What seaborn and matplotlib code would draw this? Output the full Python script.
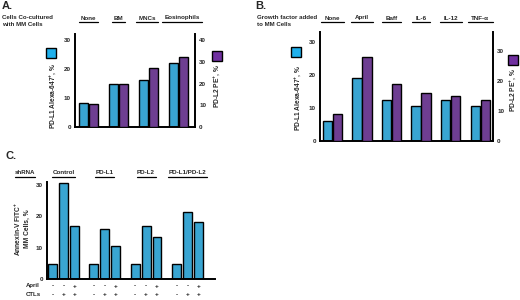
import numpy as np
import pandas as pd
import seaborn as sns
import matplotlib
matplotlib.use("Agg")
import matplotlib.pyplot as plt
from matplotlib import transforms
from matplotlib.patches import Rectangle
from matplotlib.lines import Line2D

# ---------------- data ----------------
A_groups = ["None", "BM", "MNCs", "Eosinophils"]
A_pdl1 = [8.4, 14.8, 16.2, 22.0]
A_pdl2 = [10.7, 19.9, 27.3, 32.3]

B_groups = ["None", "April", "Baff", "IL-6", "IL-12", "TNF-α"]
B_pdl1 = [6.0, 19.1, 12.5, 10.7, 12.5, 10.7]
B_pdl2 = [9.1, 28.1, 19.0, 16.0, 15.0, 13.7]

C_groups = ["Control", "PD-L1", "PD-L2", "PD-L1/PD-L2"]
C_conditions = ["none", "CTLs", "April+CTLs"]
C_none = [4.7, 4.7, 4.7, 4.7]
C_ctl = [30.6, 16.1, 16.9, 21.4]
C_april_ctl = [16.9, 10.6, 13.4, 18.1]
april_signs = ["-", "-", "+"]
ctl_signs = ["-", "+", "+"]

A_ticks_left = [0, 10, 20, 30]
A_ticks_right = [0, 10, 20, 30, 40]
B_ticks_left = [0, 10, 20, 30]
B_ticks_right = [0, 10, 20, 30]
C_ticks = [0, 10, 20, 30]

BLUE = "#1FB0EC"
PURPLE = "#7030A0"

sns.set_theme(style="white")
plt.rcParams["font.family"] = ["Liberation Sans", "DejaVu Sans"]
plt.rcParams["font.weight"] = "bold"
plt.rcParams["mathtext.fontset"] = "custom"
plt.rcParams["mathtext.rm"] = "Liberation Sans:bold"
plt.rcParams["mathtext.bf"] = "Liberation Sans:bold"
plt.rcParams["mathtext.default"] = "bf"

W, H = 520, 300
fig = plt.figure(figsize=(W / 100, H / 100), dpi=100)


def fpos(left, right, top, bottom):
    return [left / W, 1 - bottom / H, (right - left) / W, (bottom - top) / H]


def fx(x):
    return x / W


def fy(y):
    return 1 - y / H


TICKFS = 4.5
LABFS = 4.8
HEADFS = 4.4
GRPFS = 4.5


def style_ax(ax, left=True, right=False):
    for s in ["top", "right", "left", "bottom"]:
        ax.spines[s].set_visible(False)
    ax.spines["bottom"].set_visible(True)
    ax.spines["bottom"].set_color("black")
    ax.spines["bottom"].set_linewidth(1.4)
    if left:
        ax.spines["left"].set_visible(True)
        ax.spines["left"].set_color("black")
        ax.spines["left"].set_linewidth(1.4)
    if right:
        ax.spines["right"].set_visible(True)
        ax.spines["right"].set_color("black")
        ax.spines["right"].set_linewidth(1.4)
    ax.set_xlabel("")
    ax.set_ylabel("")
    ax.set_xticks([])
    ax.tick_params(axis="y", length=0, pad=3, labelsize=TICKFS)
    for t in ax.get_yticklabels():
        t.set_fontweight("bold")


def paired_panel(rect, groups, s1, s2, ylim1, ylim2, ticks1, ticks2, xlim, width, gap):
    df = pd.DataFrame({
        "group": groups * 2,
        "series": ["PD-L1"] * len(groups) + ["PD-L2"] * len(groups),
        "value": list(s1) + list(s2),
    })
    ax = fig.add_axes(rect)
    ax2 = ax.twinx()
    order = ["PD-L1", "PD-L2"]
    pal = {"PD-L1": BLUE, "PD-L2": PURPLE}
    for a, keep in ((ax, 0), (ax2, 1)):
        sns.barplot(data=df, x="group", y="value", hue="series",
                    hue_order=order, order=groups, palette=pal,
                    width=width, gap=gap, edgecolor="black", linewidth=1.0,
                    legend=False, ax=a, err_kws={"linewidth": 0})
        # each series is read on its own y axis: hide the other one here
        for ci, cont in enumerate(a.containers):
            if ci != keep:
                for p in cont:
                    p.set_visible(False)
    ax.set_ylim(*ylim1)
    ax2.set_ylim(*ylim2)
    ax.set_yticks(ticks1)
    ax2.set_yticks(ticks2)
    ax.set_xlim(*xlim)
    ax2.set_xlim(*xlim)
    style_ax(ax, left=True)
    style_ax(ax2, left=False, right=True)
    ax2.spines["bottom"].set_visible(False)
    ax.set_facecolor("none")
    ax2.set_facecolor("none")
    return ax, ax2


underline_items = []


def group_headers(ax, groups, y, pad, shift=None):
    tr = transforms.blended_transform_factory(ax.transData, fig.transFigure)
    for i, g in enumerate(groups):
        dx = shift[i] if shift else 0
        t = fig.text(i + dx, fy(y), g, transform=tr, ha="center", va="center",
                     fontsize=GRPFS, fontweight="bold")
        underline_items.append((t, pad))


def square(x0, x1, y0, y1, color):
    fig.patches.append(Rectangle((fx(x0), fy(y1)), (x1 - x0) / W, (y1 - y0) / H,
                                 transform=fig.transFigure, facecolor=color,
                                 edgecolor="black", linewidth=1.0))


L1_LABEL = r"PD-L1 Alexa-647$^{+}$, %"
L2_LABEL = r"PD-L2 PE$^{+}$, %"

# ---------------- Panel A ----------------
axA, axA2 = paired_panel(fpos(75, 195, 34, 127), A_groups, A_pdl1, A_pdl2,
                         (0, 32), (0, 42.8), A_ticks_left, A_ticks_right,
                         (-0.45, 3.55), 0.67, 0.1)
fig.text(fx(2), fy(6), "A.", fontsize=8, fontweight="bold", va="center", ha="left")
fig.text(fx(2), fy(21), "Cells Co-cultured\nwith MM Cells", fontsize=HEADFS,
         fontweight="bold", va="center", ha="left", linespacing=1.35)
group_headers(axA, A_groups, 18, 4, shift=[0, 0, -0.05, 0.12])
square(46, 56, 48, 58, BLUE)
square(212, 222, 51, 61, PURPLE)
fig.text(fx(53), fy(96), L1_LABEL, rotation=90, fontsize=LABFS,
         fontweight="bold", ha="center", va="center")
fig.text(fx(217), fy(86), L2_LABEL, rotation=90, fontsize=LABFS,
         fontweight="bold", ha="center", va="center")

# ---------------- Panel B ----------------
axB, axB2 = paired_panel(fpos(320, 493, 32, 141), B_groups, B_pdl1, B_pdl2,
                         (0, 32.9), (0, 36.3), B_ticks_left, B_ticks_right,
                         (-0.42, 5.43), 0.68, 0.06)
fig.text(fx(255), fy(6), "B.", fontsize=8, fontweight="bold", va="center", ha="left")
fig.text(fx(257), fy(21), "Growth factor added\nto MM Cells", fontsize=HEADFS,
         fontweight="bold", va="center", ha="left", linespacing=1.35)
group_headers(axB, B_groups, 18, 7)
square(291, 301, 47, 57, BLUE)
square(508, 518, 55, 65, PURPLE)
fig.text(fx(298), fy(98), L1_LABEL, rotation=90, fontsize=LABFS,
         fontweight="bold", ha="center", va="center")
fig.text(fx(513), fy(90), L2_LABEL, rotation=90, fontsize=LABFS,
         fontweight="bold", ha="center", va="center")

# ---------------- Panel C ----------------
dfC = pd.DataFrame({
    "group": C_groups * 3,
    "condition": [c for c in C_conditions for _ in C_groups],
    "value": C_none + C_ctl + C_april_ctl,
})
axC = fig.add_axes(fpos(47, 215, 182, 279))
sns.barplot(data=dfC, x="group", y="value", hue="condition", order=C_groups,
            hue_order=C_conditions, palette=[BLUE] * 3, width=0.795, gap=0.18,
            edgecolor="black", linewidth=1.0, legend=False, ax=axC,
            err_kws={"linewidth": 0})
axC.set_ylim(0, 31)
axC.set_yticks(C_ticks)
axC.set_xlim(-0.4, 3.67)
style_ax(axC, left=True)
axC.set_facecolor("none")

fig.text(fx(6), fy(156), "C.", fontsize=8, fontweight="bold", va="center", ha="left")
shr = fig.text(fx(15), fy(173), "shRNA", fontsize=HEADFS, fontweight="bold",
               va="center", ha="left")
underline_items.append((shr, 0))
group_headers(axC, C_groups, 173, 1)
fig.text(fx(21.5), fy(229), "Annexin-V FITC$^{+}$\nMM Cells, %", rotation=90,
         fontsize=LABFS, fontweight="bold", ha="center", va="center", linespacing=1.2)

# +/- rows under the bars, placed at the bar centres
trC = transforms.blended_transform_factory(axC.transData, fig.transFigure)
bars = sorted([p for p in axC.patches if p.get_height() > 0], key=lambda p: p.get_x())
for k, p in enumerate(bars):
    cx = p.get_x() + p.get_width() / 2
    fig.text(cx, fy(286), april_signs[k % 3], transform=trC, ha="center", va="center",
             fontsize=TICKFS, fontweight="bold")
    fig.text(cx, fy(294.5), ctl_signs[k % 3], transform=trC, ha="center", va="center",
             fontsize=TICKFS, fontweight="bold")
fig.text(fx(26), fy(286), "April", fontsize=HEADFS, fontweight="bold", ha="left", va="center")
fig.text(fx(26), fy(294.5), "CTLs", fontsize=HEADFS, fontweight="bold", ha="left", va="center")

# ---------------- underlines ----------------
fig.canvas.draw()
renderer = fig.canvas.get_renderer()
for t, pad in underline_items:
    bb = t.get_window_extent(renderer)
    y = bb.y0 - 1.0
    fig.add_artist(Line2D([bb.x0 - pad / 2, bb.x1 + pad / 2], [y, y], transform=None,
                          color="black", linewidth=0.9))

fig.savefig("out.png", dpi=100)
